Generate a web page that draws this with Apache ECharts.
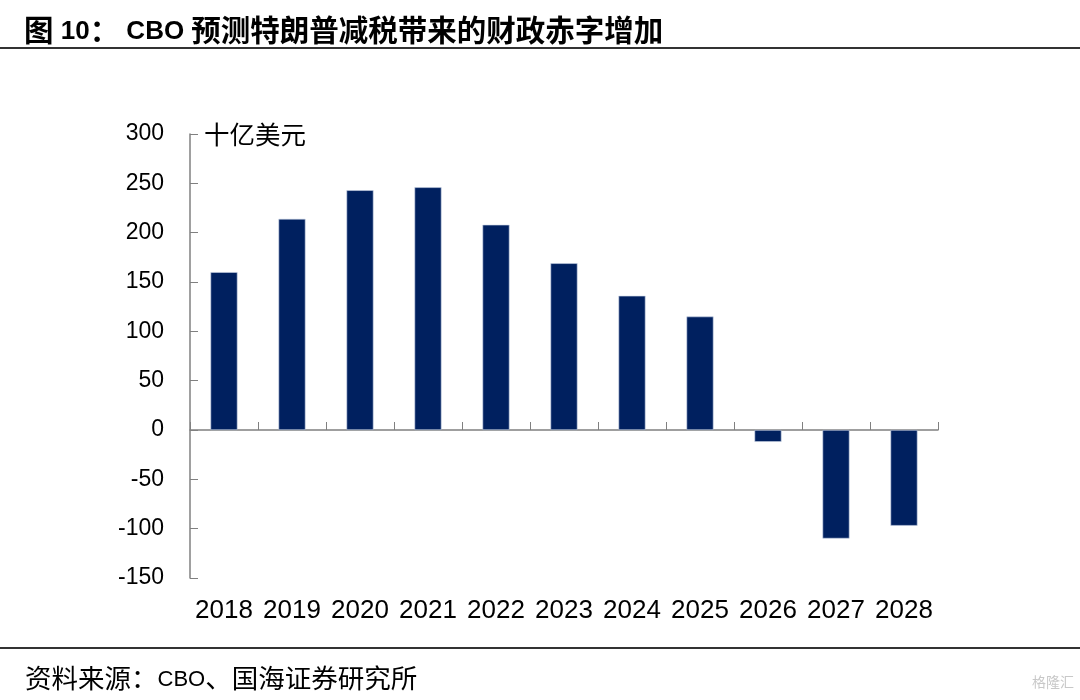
<!DOCTYPE html>
<html>
<head>
<meta charset="utf-8">
<script src="https://cdn.jsdelivr.net/npm/echarts@6/dist/echarts.min.js"></script>
<style>html,body{margin:0;padding:0;background:#fff;}#c{width:1080px;height:700px;}</style>
</head>
<body>
<div id="c"></div>
<script>
const categories = ['2018','2019','2020','2021','2022','2023','2024','2025','2026','2027','2028'];
const deficitIncrease = [160, 214, 243, 246, 208, 169, 136, 115, -12, -110, -97];
const yTicks = { min: -150, max: 300, interval: 50 };

const chart = echarts.init(document.getElementById('c'), null, { renderer: 'canvas' });
const numFont = 'Arial, "Liberation Sans", sans-serif';
const cjk = '"Noto Sans CJK SC", sans-serif';
chart.setOption({
  backgroundColor: '#fff',
  animation: false,
  title: [
    { text: '{c|图}{l| 10}{c|：}{l| CBO }{c|预测特朗普减税带来的财政赤字增加}', left: 19, top: 6,
      textStyle: { fontWeight: 'bold', lineHeight: 34, rich: {
        c: { fontSize: 29.5, fontWeight: 'bold', color: '#000', fontFamily: cjk, lineHeight: 34, verticalAlign: 'bottom' },
        l: { fontSize: 26, fontWeight: 'bold', color: '#000', fontFamily: numFont, lineHeight: 28, verticalAlign: 'bottom' }
      } } },
    { text: '{c|资料来源：}{l|CBO}{c|、国海证券研究所}', left: 20, top: 654,
      textStyle: { fontWeight: 'normal', lineHeight: 32, rich: {
        c: { fontSize: 26.5, fontWeight: 'normal', color: '#000', fontFamily: cjk, lineHeight: 32, verticalAlign: 'bottom' },
        l: { fontSize: 22, fontWeight: 'normal', color: '#000', fontFamily: numFont, lineHeight: 27, verticalAlign: 'bottom' }
      } } }
  ],
  graphic: [
    { type: 'line', shape: { x1: 0, y1: 48, x2: 1080, y2: 48 }, style: { stroke: '#333', lineWidth: 2 } },
    { type: 'line', shape: { x1: 0, y1: 648, x2: 1080, y2: 648 }, style: { stroke: '#333', lineWidth: 2 } },
    { type: 'text', left: 204, top: 122, style: { text: '十亿美元', fontSize: 25.5, fill: '#000', fontFamily: cjk } },
    { type: 'text', right: 6, top: 675, style: { text: '格隆汇', fontSize: 14, fill: '#c8c8c8', fontFamily: cjk } }
  ],
  grid: { left: 190, right: 142, top: 134, bottom: 122, containLabel: false },
  xAxis: [
    { type: 'category', data: categories, position: 'bottom',
      axisLine: { onZero: true, lineStyle: { color: '#808080', width: 1.5 } },
      axisTick: { show: true, inside: true, length: 8, alignWithLabel: false, lineStyle: { color: '#808080' } },
      axisLabel: { show: false } },
    { type: 'category', data: categories, position: 'bottom',
      axisLine: { show: false, onZero: false }, axisTick: { show: false },
      axisLabel: { show: true, interval: 0, fontSize: 26, color: '#000', fontFamily: numFont, margin: 20 } }
  ],
  yAxis: {
    type: 'value', min: yTicks.min, max: yTicks.max, interval: yTicks.interval,
    axisLine: { show: true, lineStyle: { color: '#808080', width: 1.5 } },
    axisTick: { show: true, inside: true, length: 8, lineStyle: { color: '#808080' } },
    splitLine: { show: false },
    axisLabel: { fontSize: 23, color: '#000', fontFamily: numFont, margin: 26 }
  },
  series: [{
    type: 'bar', xAxisIndex: 0, data: deficitIncrease, barWidth: 27,
    itemStyle: { color: '#00205f', borderColor: '#c9d3e6', borderWidth: 0.6 }
  }]
});
</script>
</body>
</html>
